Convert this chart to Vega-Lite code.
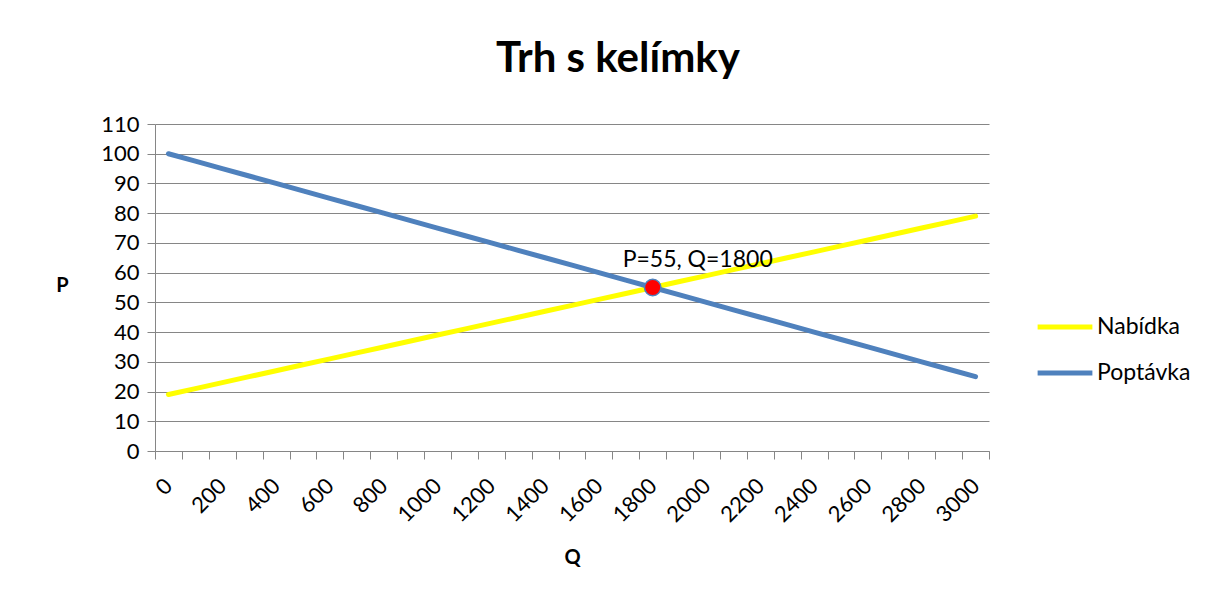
{
  "$schema": "https://vega.github.io/schema/vega-lite/v6.json",
  "width": 834,
  "height": 327,
  "autosize": {"type": "none"},
  "padding": {"left": 155, "top": 124, "right": 222, "bottom": 144},
  "background": "white",
  "config": {
    "font": "Lato",
    "view": {"stroke": null},
    "axis": {"labelFont": "Lato", "titleFont": "Lato", "labelColor": "#000000", "titleColor": "#000000"}
  },
  "title": {
    "text": "Trh s kelímky",
    "font": "Lato",
    "fontSize": 42,
    "fontWeight": "bold",
    "color": "#000000",
    "anchor": "middle",
    "dx": 46,
    "offset": 32
  },
  "data": {
    "values": [
      {"Q": 0, "Nabídka": 19, "Poptávka": 100},
      {"Q": 100, "Nabídka": 21, "Poptávka": 97.5},
      {"Q": 200, "Nabídka": 23, "Poptávka": 95},
      {"Q": 300, "Nabídka": 25, "Poptávka": 92.5},
      {"Q": 400, "Nabídka": 27, "Poptávka": 90},
      {"Q": 500, "Nabídka": 29, "Poptávka": 87.5},
      {"Q": 600, "Nabídka": 31, "Poptávka": 85},
      {"Q": 700, "Nabídka": 33, "Poptávka": 82.5},
      {"Q": 800, "Nabídka": 35, "Poptávka": 80},
      {"Q": 900, "Nabídka": 37, "Poptávka": 77.5},
      {"Q": 1000, "Nabídka": 39, "Poptávka": 75},
      {"Q": 1100, "Nabídka": 41, "Poptávka": 72.5},
      {"Q": 1200, "Nabídka": 43, "Poptávka": 70},
      {"Q": 1300, "Nabídka": 45, "Poptávka": 67.5},
      {"Q": 1400, "Nabídka": 47, "Poptávka": 65},
      {"Q": 1500, "Nabídka": 49, "Poptávka": 62.5},
      {"Q": 1600, "Nabídka": 51, "Poptávka": 60},
      {"Q": 1700, "Nabídka": 53, "Poptávka": 57.5},
      {"Q": 1800, "Nabídka": 55, "Poptávka": 55},
      {"Q": 1900, "Nabídka": 57, "Poptávka": 52.5},
      {"Q": 2000, "Nabídka": 59, "Poptávka": 50},
      {"Q": 2100, "Nabídka": 61, "Poptávka": 47.5},
      {"Q": 2200, "Nabídka": 63, "Poptávka": 45},
      {"Q": 2300, "Nabídka": 65, "Poptávka": 42.5},
      {"Q": 2400, "Nabídka": 67, "Poptávka": 40},
      {"Q": 2500, "Nabídka": 69, "Poptávka": 37.5},
      {"Q": 2600, "Nabídka": 71, "Poptávka": 35},
      {"Q": 2700, "Nabídka": 73, "Poptávka": 32.5},
      {"Q": 2800, "Nabídka": 75, "Poptávka": 30},
      {"Q": 2900, "Nabídka": 77, "Poptávka": 27.5},
      {"Q": 3000, "Nabídka": 79, "Poptávka": 25}
    ]
  },
  "encoding": {
    "x": {
      "field": "Q",
      "type": "ordinal",
      "bandPosition": 0.5,
      "scale": {"type": "band", "paddingInner": 0, "paddingOuter": 0,
        "domain": [0,100,200,300,400,500,600,700,800,900,1000,1100,1200,1300,1400,1500,1600,1700,1800,1900,2000,2100,2200,2300,2400,2500,2600,2700,2800,2900,3000]},
      "axis": {
        "title": "Q",
        "titleFontSize": 20,
        "titleFontWeight": "bold",
        "titleX": 417,
        "titleY": 106,
        "titleAlign": "center",
        "titleBaseline": "middle",
        "tickBand": "extent",
        "labelExpr": "datum.value % 200 === 0 ? datum.label : ''",
        "labelAngle": -45,
        "labelAlign": "right",
        "labelBaseline": "middle",
        "labelFontSize": 22,
        "labelPadding": 23,
        "labelOverlap": false,
        "tickSize": 8,
        "tickColor": "#868686",
        "domainColor": "#868686",
        "grid": false
      }
    },
    "y": {
      "field": "P",
      "type": "quantitative",
      "scale": {"domain": [0, 110], "nice": false},
      "axis": {
        "title": "P",
        "titleAngle": 0,
        "titleFontSize": 20,
        "titleFontWeight": "bold",
        "titleX": -93,
        "titleY": 161,
        "titleAlign": "center",
        "titleBaseline": "middle",
        "values": [0,10,20,30,40,50,60,70,80,90,100,110],
        "labelOverlap": false,
        "labelFontSize": 22,
        "labelPadding": 8,
        "tickSize": 8,
        "tickColor": "#868686",
        "domainColor": "#868686",
        "grid": true,
        "gridColor": "#868686",
        "gridWidth": 1
      }
    }
  },
  "layer": [
    {
      "transform": [{"fold": ["Nabídka", "Poptávka"], "as": ["series", "P"]}],
      "mark": {"type": "line", "strokeWidth": 5, "strokeCap": "round"},
      "encoding": {
        "color": {
          "field": "series",
          "type": "nominal",
          "scale": {"domain": ["Nabídka", "Poptávka"], "range": ["#FFFF00", "#4F81BD"]},
          "legend": {
            "title": null,
            "orient": "none",
            "legendX": 880,
            "legendY": 173,
            "symbolType": "stroke",
            "symbolSize": 3000,
            "symbolStrokeWidth": 5,
            "labelFontSize": 23,
            "labelFont": "Lato",
            "labelColor": "#000000",
            "rowPadding": 4,
            "labelOffset": 2
          }
        }
      }
    },
    {
      "data": {"values": [{"Q": 1800, "P": 55, "label": "P=55, Q=1800"}]},
      "mark": {"type": "point", "filled": true, "fill": "#FF0000", "stroke": "#4F81BD", "strokeWidth": 1.5, "size": 270, "opacity": 1},
      "encoding": {}
    },
    {
      "data": {"values": [{"Q": 1800, "P": 55, "label": "P=55, Q=1800"}]},
      "mark": {"type": "text", "fontSize": 23, "font": "Lato", "color": "#000000", "dx": 45, "dy": -28, "align": "center", "baseline": "middle"},
      "encoding": {
        "text": {"field": "label"}
      }
    }
  ]
}
